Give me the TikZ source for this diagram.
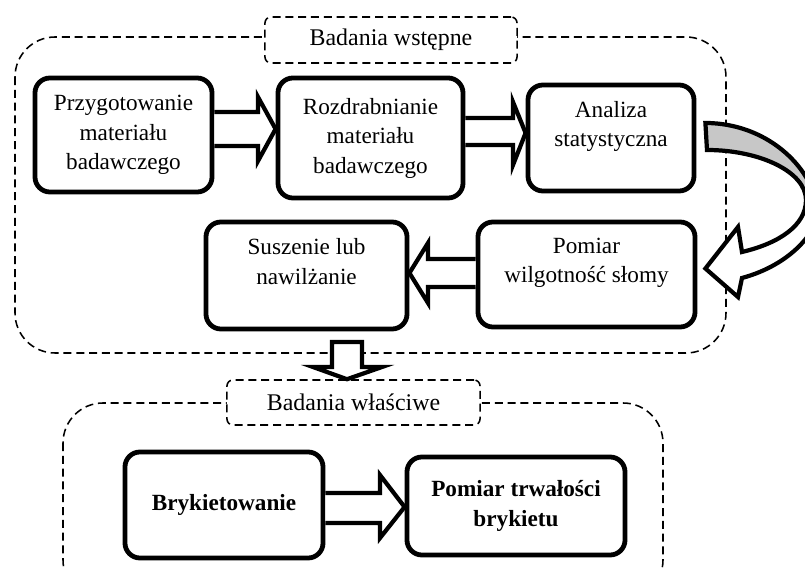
\documentclass[tikz,border=0pt]{standalone}
\usepackage{fontspec}
\setmainfont{Liberation Serif}
\usetikzlibrary{calc}
\tikzset{
	stepbox/.style={draw, line width=3.4pt, rounded corners=0.375cm, align=center, inner sep=0pt, font=\fontsize{16.5}{21}\selectfont},
	raised/.style={text depth=0.7cm},
	frame/.style={draw, line width=1.1pt, dash pattern=on 0.2cm off 0.12cm, rounded corners=1cm},
	heading/.style={frame, fill=white, rounded corners=0.15cm, minimum width=6.3cm, minimum height=1.15cm, font=\fontsize{17}{21}\selectfont},
	blockarr/.style={draw, fill=white, line width=3pt, line join=miter}
}

\begin{document}
\begin{tikzpicture}[x=0.025cm, y=-0.025cm]
		%%%%% START %%%%%
		\useasboundingbox (0,0) rectangle (805,569);
		
		% frames
		\draw[frame] (15,37) rectangle (726,353);
		\draw[frame] (63,403) rectangle (663,600);
		\node[heading] (pretitle) at (391,40) {Badania wstępne};
		\node[heading, minimum width=6.325cm, minimum height=1.125cm] (maintitle) at (353.5,402.5) {Badania właściwe};
		
		% steps
		\node[stepbox, minimum width=4.425cm, minimum height=2.85cm] (prep) at (123.5,135) {Przygotowanie\\materiału\\badawczego};
		\node[stepbox, minimum width=4.625cm, minimum height=3cm] (grind) at (370.5,138) {Rozdrabnianie\\materiału\\badawczego};
		\node[stepbox, raised, minimum width=4.15cm, minimum height=2.65cm] (anal) at (611,138) {Analiza\\statystyczna};
		\node[stepbox, raised, minimum width=5.425cm, minimum height=2.625cm] (meas) at (586.5,274.5) {Pomiar\\wilgotność słomy};
		\node[stepbox, raised, minimum width=5.025cm, minimum height=2.675cm] (dry) at (306.5,275.5) {Suszenie lub\\nawilżanie};
		\node[stepbox, minimum width=4.95cm, minimum height=2.65cm, font=\fontsize{16.5}{21}\selectfont\bfseries] (bryk) at (224,505) {Brykietowanie};
		\node[stepbox, minimum width=5.45cm, minimum height=2.45cm, font=\fontsize{16.5}{21}\selectfont\bfseries] (durab) at (516,506) {Pomiar trwałości\\brykietu};
		
		% block arrows
		\draw[blockarr] (prep.east |- 0,112) -- (258,112) -- (258,97) -- (grind.west |- 0,129) -- (258,161) -- (258,146) -- (prep.east |- 0,146);
		\draw[blockarr] (grind.east |- 0,118) -- (513,118) -- (513,102) -- (anal.west |- 0,133) -- (513,165) -- (513,145) -- (grind.east |- 0,145);
		\draw[blockarr] (meas.west |- 0,259) -- (428,259) -- (428,243) -- (dry.east |- 0,273) -- (428,303) -- (428,287) -- (meas.west |- 0,287);
		\draw[blockarr] (bryk.east |- 0,493) -- (380,493) -- (380,475) -- (durab.west |- 0,507) -- (380,538) -- (380,523) -- (bryk.east |- 0,523);
		
		\coordinate (down) at (347,342);
		\draw[blockarr] ($(down)+(-15,0)$) -- ($(down)+(15,0)$) -- (362,367) -- (382,367) -- (maintitle.north -| 347,0) -- (313,367) -- (332,367) -- cycle;
		
		% curved arrow
		\coordinate (ctail) at ($(anal.east)+(9,-15)$);
		\fill[white] (ctail) .. controls (765,123) and (812,165) .. (818,210) .. controls (818,232) and (790,265) .. (742,278)
			-- (738,297) -- ($(meas.east)+(8,-6)$) -- (738,227) -- (742,252)
			.. controls (780,243) and (806,225) .. (806,200) .. controls (806,172) and (760,150) .. (707,150) -- cycle;
		\fill[black!22] (ctail) .. controls (765,123) and (812,165) .. (818,210) -- (806,200) .. controls (806,172) and (760,150) .. (707,150) -- cycle;
		\draw[line width=3pt, line join=miter] (ctail) .. controls (765,123) and (812,165) .. (818,210) .. controls (818,232) and (790,265) .. (742,278)
			-- (738,297) -- ($(meas.east)+(8,-6)$) -- (738,227) -- (742,252)
			.. controls (780,243) and (806,225) .. (806,200) .. controls (806,172) and (760,150) .. (707,150) -- cycle;
		
		%%%%% END %%%%%
	\end{tikzpicture}
\end{document}
